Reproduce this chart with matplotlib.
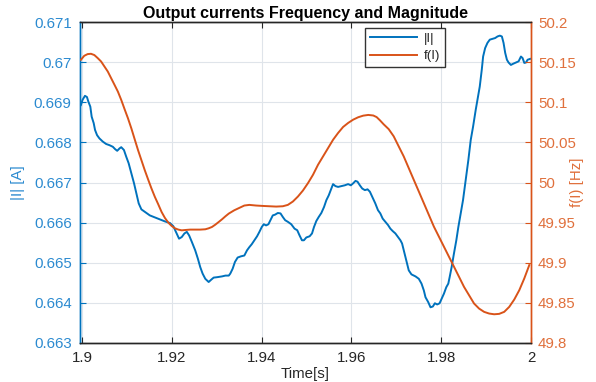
import matplotlib
matplotlib.use("Agg")
import matplotlib.pyplot as plt
from matplotlib.lines import Line2D

plt.rcParams['font.family'] = ['Liberation Sans', 'DejaVu Sans']

# ---------------- data ----------------
title = "Output currents Frequency and Magnitude"
xlabel = "Time[s]"
ylabel_left = "|I| [A]"
ylabel_right = "f(I) [Hz]"
legend_labels = ["|I|", "f(I)"]

x_ticks = [1.9, 1.92, 1.94, 1.96, 1.98, 2.0]
x_ticklabels = ["1.9", "1.92", "1.94", "1.96", "1.98", "2"]
yl_ticks = [0.663, 0.664, 0.665, 0.666, 0.667, 0.668, 0.669, 0.670, 0.671]
yl_ticklabels = ["0.663", "0.664", "0.665", "0.666", "0.667", "0.668", "0.669", "0.67", "0.671"]
yr_ticks = [49.8, 49.85, 49.9, 49.95, 50.0, 50.05, 50.1, 50.15, 50.2]
yr_ticklabels = ["49.8", "49.85", "49.9", "49.95", "50", "50.05", "50.1", "50.15", "50.2"]

t_I = [1.8997, 1.90007, 1.9006, 1.90105, 1.90135, 1.9018, 1.9021, 1.90255, 1.90285, 1.9033,
       1.90382, 1.90457, 1.90532, 1.90607, 1.90682, 1.90734, 1.90779, 1.90831, 1.90869, 1.90929,
       1.90981, 1.91034, 1.91094, 1.91154, 1.91206, 1.91258, 1.91318, 1.91393, 1.91506, 1.91618,
       1.9173, 1.91843, 1.91955, 1.9203, 1.92105, 1.92157, 1.92217, 1.92277, 1.9233, 1.92382,
       1.92442, 1.92517, 1.92577, 1.9263, 1.92682, 1.92742, 1.92817, 1.92876, 1.92929, 1.93004,
       1.93116, 1.93191, 1.93266, 1.93299, 1.93351, 1.93403, 1.93463, 1.93537, 1.93612, 1.93672,
       1.93724, 1.93776, 1.93836, 1.93896, 1.93948, 1.94, 1.94045, 1.94097, 1.94149, 1.94209,
       1.94246, 1.94299, 1.94358, 1.94418, 1.9447, 1.94522, 1.94582, 1.94657, 1.94731, 1.94791,
       1.94843, 1.94896, 1.9494, 1.94993, 1.95067, 1.9512, 1.95164, 1.95216, 1.95269, 1.95328,
       1.95388, 1.9544, 1.95493, 1.95537, 1.95589, 1.95642, 1.95701, 1.95776, 1.9585, 1.95925,
       1.95985, 1.96037, 1.96089, 1.96134, 1.96186, 1.96239, 1.96298, 1.96358, 1.9641, 1.96471,
       1.9653, 1.9659, 1.96642, 1.96695, 1.96754, 1.96814, 1.96866, 1.96918, 1.96978, 1.97038,
       1.9709, 1.97127, 1.97165, 1.97202, 1.97239, 1.97276, 1.97336, 1.97426, 1.975, 1.9756,
       1.97612, 1.97649, 1.97709, 1.97761, 1.97813, 1.97858, 1.9791, 1.97963, 1.98007, 1.9806,
       1.98112, 1.98157, 1.98187, 1.98231, 1.98283, 1.98336, 1.98381, 1.98433, 1.98485, 1.98545,
       1.98604, 1.98657, 1.98709, 1.98768, 1.98806, 1.98858, 1.98903, 1.98933, 1.98978, 1.9903,
       1.99082, 1.99142, 1.99201, 1.99254, 1.99306, 1.99351, 1.99388, 1.99425, 1.99463, 1.995,
       1.99552, 1.99604, 1.99664, 1.99724, 1.99776, 1.99813, 1.99851, 1.99888, 1.99925, 1.99978]
I_mag = [0.66893, 0.66906, 0.66916, 0.66913, 0.66902, 0.66889, 0.66864, 0.66848, 0.66831, 0.66818,
         0.66810, 0.66802, 0.66796, 0.66793, 0.66789, 0.66783, 0.66779, 0.66785, 0.66788, 0.66781,
         0.66764, 0.66748, 0.66723, 0.66698, 0.66673, 0.66648, 0.66633, 0.66627, 0.66618, 0.66613,
         0.66608, 0.66603, 0.66599, 0.66591, 0.66573, 0.66560, 0.66564, 0.66573, 0.66577, 0.66568,
         0.66552, 0.66531, 0.66510, 0.66489, 0.66473, 0.66460, 0.66452, 0.66458, 0.66463, 0.66464,
         0.66466, 0.66468, 0.66468, 0.66473, 0.66485, 0.66502, 0.66513, 0.66516, 0.66518, 0.66531,
         0.66539, 0.66546, 0.66556, 0.66566, 0.66577, 0.66589, 0.66596, 0.66593, 0.66596, 0.66610,
         0.66618, 0.66620, 0.66624, 0.66623, 0.66614, 0.66606, 0.66602, 0.66596, 0.66585, 0.66581,
         0.66568, 0.66556, 0.66556, 0.66563, 0.66566, 0.66573, 0.66589, 0.66604, 0.66614, 0.66624,
         0.66639, 0.66656, 0.66668, 0.66681, 0.66696, 0.66691, 0.66689, 0.66691, 0.66693, 0.66696,
         0.66693, 0.66698, 0.66704, 0.66702, 0.66693, 0.66685, 0.66681, 0.66683, 0.66677, 0.66662,
         0.66648, 0.66631, 0.66623, 0.66610, 0.66602, 0.66594, 0.66585, 0.66579, 0.66573, 0.66564,
         0.66556, 0.66548, 0.66531, 0.66514, 0.66498, 0.66481, 0.66471, 0.66466, 0.66460, 0.66448,
         0.66431, 0.66414, 0.66402, 0.66389, 0.66391, 0.66399, 0.66396, 0.66399, 0.66410, 0.66423,
         0.66439, 0.66448, 0.66464, 0.66489, 0.66523, 0.66556, 0.66589, 0.66623, 0.66656, 0.66706,
         0.66756, 0.66806, 0.66839, 0.66881, 0.66906, 0.66939, 0.66981, 0.67014, 0.67035, 0.67048,
         0.67056, 0.67058, 0.67060, 0.67064, 0.67066, 0.67064, 0.67048, 0.67023, 0.67006, 0.66999,
         0.66993, 0.66996, 0.66999, 0.67002, 0.67014, 0.67010, 0.66998, 0.66999, 0.67006, 0.67008]

t_f = [1.8997, 1.90045, 1.9012, 1.90195, 1.9027, 1.90345, 1.9042, 1.90494, 1.90569, 1.90644,
       1.90719, 1.90794, 1.90869, 1.90944, 1.91019, 1.91094, 1.91169, 1.91243, 1.91318, 1.91393,
       1.91468, 1.91543, 1.91618, 1.91693, 1.91768, 1.91843, 1.91918, 1.91993, 1.92067, 1.92142,
       1.92217, 1.92292, 1.92404, 1.92517, 1.92629, 1.92742, 1.92816, 1.92891, 1.92966, 1.93041,
       1.93116, 1.93191, 1.93266, 1.93388, 1.93612, 1.93724, 1.93873, 1.94022, 1.94172, 1.94321,
       1.9447, 1.94582, 1.94694, 1.94806, 1.94918, 1.9503, 1.95142, 1.95254, 1.95366, 1.95478,
       1.9559, 1.95701, 1.95813, 1.95925, 1.96037, 1.96149, 1.96261, 1.96373, 1.96485, 1.9656,
       1.96634, 1.96717, 1.96829, 1.96941, 1.97052, 1.97164, 1.97276, 1.97388, 1.975, 1.97612,
       1.97724, 1.97836, 1.97948, 1.9806, 1.98172, 1.98284, 1.98396, 1.98507, 1.98619, 1.98731,
       1.98843, 1.98955, 1.99067, 1.99179, 1.99291, 1.99403, 1.99515, 1.99627, 1.99739, 1.9985,
       1.99962]
f_vals = [50.1529, 50.1579, 50.1600, 50.1604, 50.1588, 50.1550, 50.1508, 50.1446, 50.1383, 50.1300,
          50.1217, 50.1133, 50.1029, 50.0913, 50.0800, 50.0675, 50.0538, 50.0404, 50.0279, 50.0154,
          50.0038, 49.9925, 49.9821, 49.9729, 49.9633, 49.9558, 49.9500, 49.9458, 49.9429, 49.9413,
          49.9404, 49.9408, 49.9413, 49.9413, 49.9413, 49.9417, 49.9429, 49.9446, 49.9475, 49.9508,
          49.9542, 49.9579, 49.9613, 49.9654, 49.9713, 49.9721, 49.9713, 49.9708, 49.9704, 49.9700,
          49.9704, 49.9721, 49.9763, 49.9825, 49.9900, 49.9992, 50.0096, 50.0221, 50.0325, 50.0429,
          50.0533, 50.0617, 50.0692, 50.0742, 50.0783, 50.0813, 50.0833, 50.0842, 50.0835, 50.0815,
          50.0775, 50.0725, 50.0665, 50.0575, 50.0450, 50.0325, 50.0179, 50.0033, 49.9888, 49.9742,
          49.9596, 49.9450, 49.9325, 49.9200, 49.9075, 49.8950, 49.8825, 49.8700, 49.8596, 49.8492,
          49.8429, 49.8388, 49.8367, 49.8358, 49.8363, 49.8388, 49.8450, 49.8542, 49.8658, 49.8804,
          49.8971]

# ---------------- style ----------------
c_blue = '#0072BD'
c_orange = '#D95319'
c_blue_txt = '#2b8ad0'
c_orange_txt = '#e0703c'

fig = plt.figure(figsize=(5.96, 3.82), dpi=100)
ax = fig.add_axes([80/596, 1 - 343/382, 451/596, 321/382])
ax2 = ax.twinx()

ax.plot(t_I, I_mag, color=c_blue, lw=1.4, zorder=3)
ax2.plot(t_f, f_vals, color=c_orange, lw=1.4, zorder=3)

ax.set_xlim(1.8995, 2.0)
ax.set_ylim(0.663, 0.671)
ax2.set_ylim(49.8, 50.2)

ax.set_xticks(x_ticks)
ax.set_xticklabels(x_ticklabels)
ax.set_yticks(yl_ticks)
ax.set_yticklabels(yl_ticklabels)
ax2.set_yticks(yr_ticks)
ax2.set_yticklabels(yr_ticklabels)

ax.grid(True, color='#dfe4ea', lw=0.8)
ax.set_axisbelow(True)

fs = 10.8
ax.tick_params(axis='x', direction='in', top=True, length=4, labelsize=fs,
               colors='#262626', pad=6, width=0.8)
ax.tick_params(axis='y', direction='in', length=4, labelsize=fs, colors=c_blue,
               labelcolor=c_blue_txt, pad=6, width=0.8)
ax2.tick_params(axis='y', direction='in', length=4, labelsize=fs, colors=c_orange,
                labelcolor=c_orange_txt, pad=5, width=0.8)

for a in (ax, ax2):
    a.spines['top'].set_color('#262626')
    a.spines['bottom'].set_color('#262626')
    a.spines['left'].set_color(c_blue)
    a.spines['right'].set_color(c_orange)
    for s in a.spines.values():
        s.set_linewidth(1.0)

ax.set_xlabel(xlabel, fontsize=fs, color='#262626', labelpad=1)
ax.set_ylabel(ylabel_left, fontsize=fs, color=c_blue_txt, labelpad=6)
ax2.set_ylabel(ylabel_right, fontsize=fs, color=c_orange_txt, labelpad=-4)
ax.set_title(title, fontsize=11.5, fontweight='bold', pad=3)

handles = [Line2D([], [], color=c_blue, lw=1.4), Line2D([], [], color=c_orange, lw=1.4)]
leg = ax2.legend(handles, legend_labels, loc='upper left', bbox_to_anchor=(0.632, 0.982),
                 fontsize=9.5, frameon=True, fancybox=False, edgecolor='black',
                 handlelength=3.6, handletextpad=0.5, labelspacing=0.4,
                 borderpad=0.35, borderaxespad=0)
leg.get_frame().set_linewidth(1.0)
for txt in leg.get_texts():
    txt.set_color('#262626')

fig.savefig('out.png', dpi=100)
